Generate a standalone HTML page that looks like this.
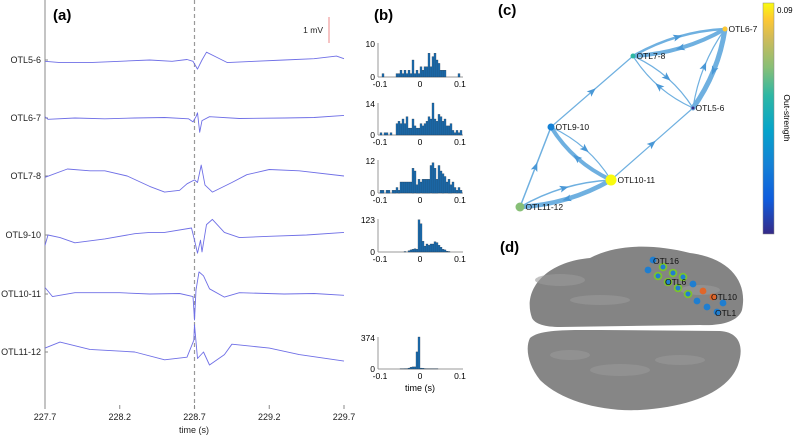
<!DOCTYPE html>
<html><head><meta charset="utf-8"><style>
html,body{margin:0;padding:0;background:#fff;}
svg{display:block;font-family:"Liberation Sans",sans-serif;}
</style></head><body>
<svg id="fig" width="793" height="439" viewBox="0 0 793 439" xmlns="http://www.w3.org/2000/svg">
<defs>
<linearGradient id="parula" x1="0" y1="1" x2="0" y2="0">
<stop offset="0" stop-color="#352a87"/><stop offset="0.15" stop-color="#0f5cdd"/><stop offset="0.3" stop-color="#1481d6"/><stop offset="0.45" stop-color="#06a4ca"/><stop offset="0.6" stop-color="#2eb7a4"/><stop offset="0.72" stop-color="#87bf77"/><stop offset="0.85" stop-color="#d1bb59"/><stop offset="0.93" stop-color="#fec832"/><stop offset="1" stop-color="#f9fb0e"/>
</linearGradient>
</defs>
<g id="panelA"></g>
<g id="panelB"></g>
<g id="panelC"></g>
<g id="panelD"></g>
</svg>
<script>
// ---------- Panel (a) data ----------
const channels = ["OTL5-6","OTL6-7","OTL7-8","OTL9-10","OTL10-11","OTL11-12"];
const xTicks = [227.7,228.2,228.7,229.2,229.7];
const eventTime = 228.7;
const trace0 = [[227.7,-0.05],[227.8,-0.1],[228.0,-0.1],[228.2,-0.05],[228.4,0],[228.55,-0.05],[228.65,0.02],[228.69,-0.05],[228.72,-0.35],[228.75,0],[228.78,0.3],[228.85,0.1],[228.92,-0.1],[229.1,-0.05],[229.3,0],[229.5,0.05],[229.65,0.15],[229.7,0.05]];
const trace1 = [[227.7,0.05],[227.72,-0.05],[227.9,0],[228.1,-0.03],[228.3,0],[228.5,0.02],[228.66,-0.03],[228.69,-0.15],[228.71,0.05],[228.72,0.2],[228.735,-0.55],[228.75,-0.1],[228.8,0.05],[229.0,-0.02],[229.3,0],[229.5,0.02],[229.7,0.1]];
const trace2 = [[227.7,-0.05],[227.85,0.27],[228.0,0.2],[228.1,0.2],[228.25,0],[228.4,-0.4],[228.5,-0.62],[228.6,-0.55],[228.65,-0.3],[228.7,-0.15],[228.72,-0.25],[228.745,0.42],[228.77,-0.35],[228.82,-0.62],[228.95,-0.25],[229.05,0.05],[229.2,0.25],[229.4,0.2],[229.7,0]];
const trace3 = [[227.7,-0.4],[227.72,0],[227.8,-0.1],[227.9,-0.3],[228.1,-0.15],[228.3,0.05],[228.4,0.1],[228.5,0.1],[228.68,0.27],[228.7,-0.2],[228.72,-0.7],[228.74,-0.2],[228.75,-0.65],[228.78,0.4],[228.82,0.6],[228.9,0.1],[229.0,-0.1],[229.2,-0.05],[229.45,0],[229.7,0.1]];
const trace4 = [[227.7,0.25],[227.75,-0.1],[227.9,0.05],[228.2,0.05],[228.4,0],[228.6,0.02],[228.69,-0.1],[228.7,-1.0],[228.71,0.15],[228.73,0.85],[228.76,0.7],[228.8,0.2],[228.9,-0.12],[229.0,0.05],[229.3,0],[229.5,0.02],[229.7,-0.05]];
const trace5 = [[227.7,0.15],[227.8,0.38],[228.0,0.1],[228.3,0],[228.5,-0.3],[228.65,-0.2],[228.695,0.45],[228.7,1.05],[228.72,-0.25],[228.76,0],[228.8,-0.5],[228.9,-0.1],[228.95,0.3],[229.2,0.15],[229.4,-0.1],[229.7,-0.35]];
const traces = [trace0,trace1,trace2,trace3,trace4,trace5];

// ---------- Panel (b) data ----------
const binEdges = [-0.1,0.1];
const hist0 = [0,1,0,0,0,0,0,0,1,1,2,1,2,1,2,1,5,1,2,1,3,2,3,3,7,3,6,7,5,4,2,2,2,0,0,0,0,0,0,1,0];
const hist1 = [1,0,1,1,0,1,0,0,5,6,5,7,5,8,3,3,7,4,3,3,5,4,5,6,8,7,14,7,6,9,8,6,7,4,4,5,2,1,2,1,2];
const hist2 = [1,1,0,1,1,0,1,1,2,1,4,4,4,4,4,4,9,8,3,5,4,5,5,5,5,10,11,9,5,10,8,7,6,4,5,3,4,2,1,2,1];
const hist3 = [0,0,0,0,0,0,0,0,0,0,0,0,2,0,5,8,10,12,10,120,105,40,22,30,25,30,30,38,35,25,18,10,8,3,2,0,0,0,0,0,0];
const hist4 = [0,0,0,0,0,0,0,0,0,0,3,3,5,5,10,20,25,25,200,374,10,8,5,3,2,3,3,3,2,0,0,0,0,0,0,0,0,0,0,0,0];
const hists = [hist0,hist1,hist2,hist3,hist4];
const histMax = [10,14,12,123,374];
const histXTicks = ["-0.1","0","0.1"];

// ---------- Panel (c) data ----------
const nodeNames = ["OTL6-7","OTL7-8","OTL5-6","OTL9-10","OTL10-11","OTL11-12"];
const nodeStrength = [0.075,0.045,0.002,0.02,0.09,0.055];
const edgeFrom = [0,1,0,2,1,2,3,4,3,4,4,5,5];
const edgeTo   = [1,0,2,0,2,1,1,2,4,3,5,4,3];
const edgeW    = [4,2.5,5,1.2,1.2,1.2,1.2,1.2,1.2,4,4.5,1.5,1.5];
const edgeC    = [0.12,0.12,0.12,0.12,0.15,0.15,0,0,0.15,0.15,0.12,0.12,0];

const NS="http://www.w3.org/2000/svg";
function mk(parent,tag,attrs,text){const e=document.createElementNS(NS,tag);for(const k in attrs)e.setAttribute(k,attrs[k]);if(text!==undefined)e.textContent=text;parent.appendChild(e);return e;}

// ---- Panel A ----
const A=document.getElementById('panelA');
const ax0=45, ax1=344, t0=227.7, t1=229.7;
const xs=t=>ax0+(t-t0)/(t1-t0)*(ax1-ax0);
const bases=[60,118,176,235,294,352];
const mvPx=26;
let l=mk(A,'line',{x1:ax0,y1:0,x2:ax0,y2:409,stroke:'#888','stroke-width':1});


let lb=mk(A,'text',{x:53,y:20,'font-size':15,'font-weight':'bold'},'(a)');


let dl=mk(A,'line',{x1:xs(eventTime),y1:0,x2:xs(eventTime),y2:409,stroke:'#999','stroke-width':1.2,'stroke-dasharray':'4,3'});


channels.forEach((c,i)=>{
  const y=bases[i];
  const tk=mk(A,'line',{x1:ax0,y1:y,x2:ax0+3,y2:y,stroke:'#888'});
  
  
  const tx=mk(A,'text',{x:41,y:y+3,'font-size':9,'text-anchor':'end',fill:'#222'},c);
  
  
  const d=traces[i].map((p,j)=>(j?'L':'M')+xs(p[0]).toFixed(1)+','+(y-p[1]*mvPx).toFixed(1)).join('');
  const pth=mk(A,'path',{d:d,fill:'none',stroke:'#6f6fe6','stroke-width':0.9,'stroke-linejoin':'round'});
  
  
});
xTicks.forEach(t=>{
  const tk=mk(A,'line',{x1:xs(t),y1:409,x2:xs(t),y2:405,stroke:'#888'});
  
  
  const tx=mk(A,'text',{x:xs(t),y:420,'font-size':9,'text-anchor':'middle',fill:'#222'},t.toFixed(1));
  
  
});
let xt=mk(A,'text',{x:194,y:433,'font-size':9,'text-anchor':'middle',fill:'#222'},'time (s)');


let sb=mk(A,'line',{x1:329,y1:17,x2:329,y2:43,stroke:'#e88','stroke-width':1});


let st=mk(A,'text',{x:323,y:33,'font-size':8.5,'text-anchor':'end',fill:'#222'},'1 mV');



// ---- Panel B ----
const B=document.getElementById('panelB');
let lbb=mk(B,'text',{x:374,y:20,'font-size':15,'font-weight':'bold'},'(b)');


const hx0=380,hx1=460;
const hTop=[43,103,160,219,337],hBot=[77,135,193,252,369];
const hxs=v=>hx0+(v-binEdges[0])/(binEdges[1]-binEdges[0])*(hx1-hx0);
hists.forEach((h,i)=>{
  const g=mk(B,'g',{});
  
  
  const yb=hBot[i],yt=hTop[i];
  const ys=v=>yb-v/histMax[i]*(yb-yt);
  mk(g,'line',{x1:378,y1:yt,x2:378,y2:yb,stroke:'#999'});
  mk(g,'line',{x1:378,y1:yb,x2:463,y2:yb,stroke:'#999'});
  const bw=(binEdges[1]-binEdges[0])/(h.length-1);
  const bpx=hxs(binEdges[0]+bw)-hx0;
  h.forEach((v,j)=>{
    if(v<=0)return;
    const x=hxs(binEdges[0]+j*bw);
    const r=mk(g,'rect',{x:x.toFixed(1),y:ys(v).toFixed(1),width:bpx.toFixed(2),height:(yb-ys(v)).toFixed(1),fill:'#1a6fb5',stroke:'#234','stroke-width':0.3});
    
    
  });
  const t1=mk(g,'text',{x:375,y:yt+4,'font-size':8.5,'text-anchor':'end'},String(histMax[i]));
  
  
  const t2=mk(g,'text',{x:375,y:yb+3,'font-size':8.5,'text-anchor':'end'},'0');
  
  
  histXTicks.forEach((s,k)=>{
    const tt=mk(g,'text',{x:hx0+k*(hx1-hx0)/2,y:yb+10,'font-size':8.5,'text-anchor':'middle'},s);
    
    
  });
});
let hxt=mk(B,'text',{x:420,y:391,'font-size':9,'text-anchor':'middle'},'time (s)');



// ---- Panel C ----
const C=document.getElementById('panelC');
let lbc=mk(C,'text',{x:498,y:15,'font-size':15,'font-weight':'bold'},'(c)');


const nodePos=[[725,29],[633,56],[693,108],[551,127],[611,180],[520,207]];
const parulaStops=['#352a87','#0f5cdd','#1481d6','#06a4ca','#2eb7a4','#87bf77','#d1bb59','#fec832','#f9fb0e'];
const nodeR=[2.5,2.5,1.5,3.5,5.5,4.5];
edgeFrom.forEach((f,i)=>{
  const a=nodePos[f],b=nodePos[edgeTo[i]];
  const dx=b[0]-a[0],dy=b[1]-a[1];
  const c=edgeC[i];
  const cx=(a[0]+b[0])/2+dy*c, cy=(a[1]+b[1])/2-dx*c;
  const p=mk(C,'path',{d:`M${a[0]},${a[1]} Q${cx},${cy} ${b[0]},${b[1]}`,fill:'none',stroke:'#6fb0e0','stroke-width':edgeW[i],'stroke-linecap':'round'});
  
  
  const mx=0.25*a[0]+0.5*cx+0.25*b[0], my=0.25*a[1]+0.5*cy+0.25*b[1];
  const ang=Math.atan2(b[1]-a[1],b[0]-a[0])*180/Math.PI;
  const ah=mk(C,'path',{d:'M5,0 L-4,-3.5 L-2,0 L-4,3.5 Z',fill:'#4a98d6',transform:`translate(${mx},${my}) rotate(${ang})`});
  
  
});
nodeNames.forEach((n,i)=>{
  const s=nodeStrength[i]/0.09;
  const col=parulaStops[Math.round(s*(parulaStops.length-1))];
  const r=nodeR[i];
  const c=mk(C,'circle',{cx:nodePos[i][0],cy:nodePos[i][1],r:r,fill:col});
  
  
  const t=mk(C,'text',{x:nodePos[i][0]+r+1,y:nodePos[i][1]+3,'font-size':8.5,fill:'#111'},n);
  
  
});
let cb=mk(C,'rect',{x:763,y:3,width:11,height:231,fill:'url(#parula)',stroke:'#888','stroke-width':0.5});


let cbt=mk(C,'text',{x:777,y:13,'font-size':8},'0.09');


let cbl=mk(C,'text',{x:784,y:118,'font-size':8.5,'text-anchor':'middle',transform:'rotate(90 784 118)'},'Out-strength');



// ---- Panel D ----
const D=document.getElementById('panelD');
let lbd=mk(D,'text',{x:500,y:252,'font-size':15,'font-weight':'bold'},'(d)');


let h1=mk(D,'path',{d:'M532,318 C522,290 545,262 590,258 C615,245 650,243 690,253 C730,258 748,282 742,310 C738,322 720,326 700,325 L560,327 C545,327 535,324 532,318 Z',fill:'#848484'});


let h2=mk(D,'path',{d:'M530,338 C540,329 570,330 600,330 L720,331 C738,332 745,345 738,365 C728,392 690,407 640,410 C600,412 560,400 540,380 C528,365 525,348 530,338 Z',fill:'#868686'});


[[560,280,25,6],[600,300,30,5],[620,370,30,6],[680,360,25,5],[570,355,20,5],[700,290,20,5]].forEach(s=>{
  const e=mk(D,'ellipse',{cx:s[0],cy:s[1],rx:s[2],ry:s[3],fill:'#9a9a9a',opacity:0.6});
  
  
});
const elecs=[[653,260,0],[648,270,0],[663,267,1],[673,273,1],[658,276,1],[683,277,1],[668,282,1],[678,288,1],[688,294,1],[693,284,0],[697,301,0],[707,307,0],[717,312,0],[723,303,0],[703,291,2],[713,297,2]];
elecs.forEach(e=>{
  const c=mk(D,'circle',{cx:e[0],cy:e[1],r:3.4,fill:e[2]==2?'#e0662a':'#1f7ed0',stroke:e[2]==1?'#7cc22e':'none','stroke-width':1.8});
  
  
});
[['OTL16',653,264],['OTL6',665,285],['OTL10',711,300],['OTL1',715,316]].forEach(s=>{
  const t=mk(D,'text',{x:s[1],y:s[2],'font-size':8.5,fill:'#111'},s[0]);
  
  
});
</script>
</body></html>
